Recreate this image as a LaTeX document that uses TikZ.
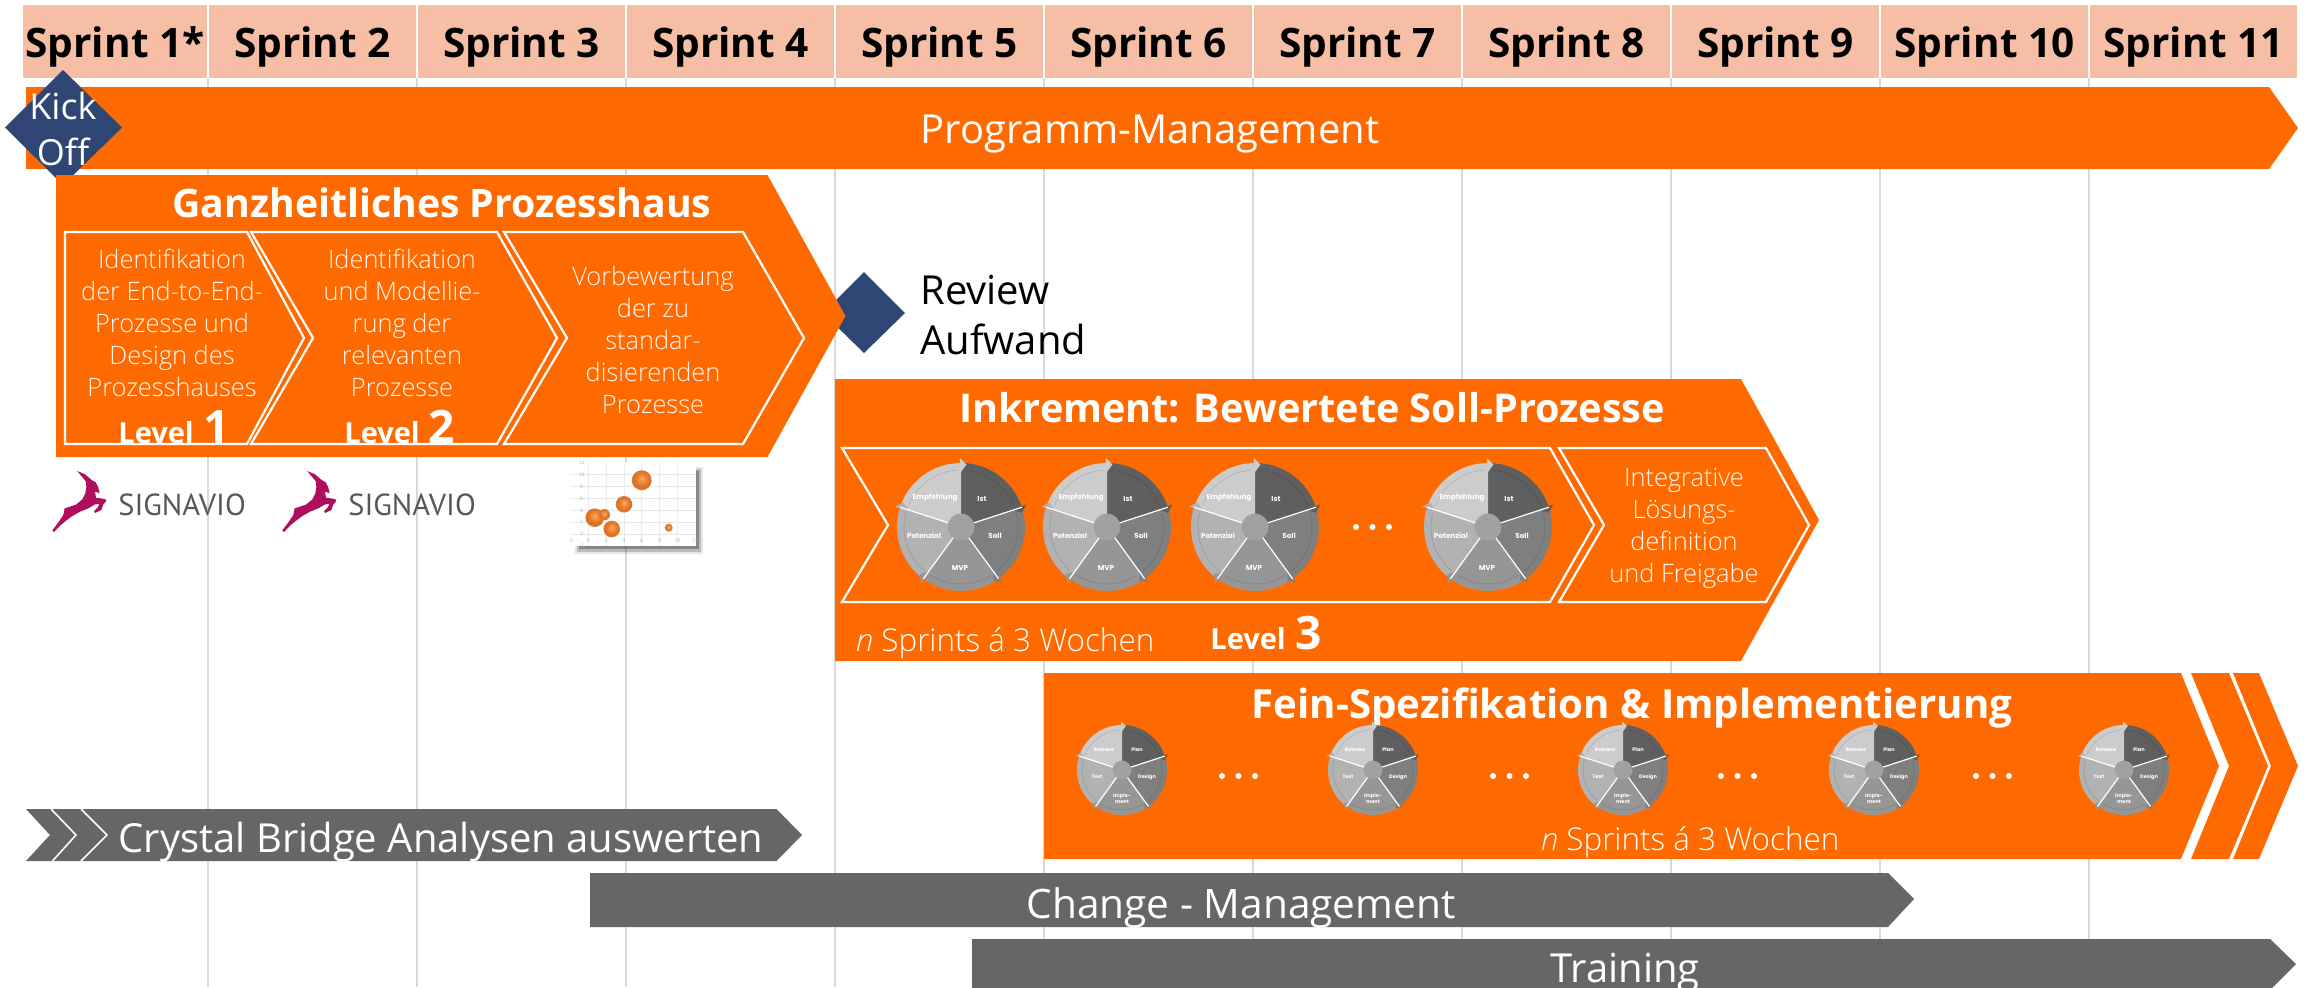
\documentclass[tikz,border=0pt]{standalone}
\usepackage{fontspec}
\setmainfont{Open Sans}
\newfontfamily\wheelfont{Poppins}
\newfontfamily\logofont{PT Sans}
\newfontfamily\lightfont{Open Sans Light}
\usetikzlibrary{shadings}
\definecolor{orng}{HTML}{FF6A00}
\definecolor{hdr}{HTML}{F6BEA5}
\definecolor{bargrey}{HTML}{666666}
\definecolor{diam}{HTML}{2F4574}
\definecolor{gridc}{HTML}{D9D9D9}
\definecolor{pale}{HTML}{FFF6F0}
\definecolor{logor}{HTML}{AE0E5C}
\definecolor{logog}{HTML}{58585A}
\definecolor{orbA}{HTML}{F8AE70}
\definecolor{orbB}{HTML}{F08A38}
\definecolor{orbC}{HTML}{D96E22}
\definecolor{orbD}{HTML}{E09058}
\pgfdeclareradialshading{orb}{\pgfpoint{0bp}{5bp}}{color(0bp)=(orbA); color(9bp)=(orbB); color(21bp)=(orbC); color(30bp)=(orbD); color(50bp)=(orbD)}
\tikzset{
  band/.style={fill=orng},
  greybar/.style={fill=bargrey},
  chev/.style={draw=white,line width=1.1pt,line join=miter},
  sprintcell/.style={fill=hdr},
  sprintlabel/.style={font=\fontsize{20.3}{20}\selectfont\bfseries,text=black,inner sep=0},
  titlelabel/.style={font=\fontsize{19.6}{20}\selectfont\bfseries,text=white,inner sep=0},
  barlabel/.style={font=\fontsize{20}{20}\selectfont,text=white,inner sep=0},
  chevlabel/.style={font=\lightfont\fontsize{12.7}{16}\selectfont,text=pale,align=center,inner sep=0},
  noteL/.style={font=\lightfont\fontsize{15.7}{14}\selectfont,text=white,inner sep=0},
  levelL/.style={font=\fontsize{14.5}{14}\selectfont\bfseries,text=white,inner sep=0,anchor=base west},
  digitL/.style={font=\fontsize{23}{22}\selectfont\bfseries,text=white,inner sep=0,anchor=base west},
  wheeltxt/.style={text=white,inner sep=0,align=center},
  dotmark/.style={fill=white,inner sep=0,minimum size=3pt,circle},
  ticklabel/.style={font=\fontsize{2.4}{3}\selectfont,text=black!35,inner sep=0},
}
\newcommand{\wheelbase}[4]{%
  \begin{scope}[shift={(#2,#3)}]
    \foreach \aa/\bb/\cc in {90/18/5F5F5F,18/-54/7F7F7F,-54/-126/969696,-126/-198/B2B2B2,-198/-270/CCCCCC}{
      \definecolor{secc}{HTML}{\cc}
      \fill[secc] (0,0) -- (\aa:#4pt) arc[start angle=\aa,end angle=\bb,radius=#4pt] -- cycle;
      \draw[secc!88!black,line width=0.35pt] (\aa-4:0.89*#4pt) arc[start angle=\aa-4,end angle=\bb+4,radius=0.89*#4pt];
    }
    \foreach \aa/\cc in {90/CCCCCC,18/5F5F5F,-54/7F7F7F,-126/969696,-198/B2B2B2}{
      \definecolor{secc}{HTML}{\cc}
      \fill[secc] (\aa+1:0.84*#4pt) -- (\aa+1:1.08*#4pt) -- (\aa-5:0.98*#4pt) -- cycle;
    }
    \foreach \aa in {18,-54,-126,-198}{
      \draw[white,line width=0.6pt] (0,0) -- (\aa:#4pt);
    }
    \fill[A0hub] (0,0) circle[radius=0.21*#4pt];
  \end{scope}%
}
\colorlet{A0hub}{black!37}
\newcommand{\bigwheel}[3]{%
  \wheelbase{#1}{#2}{#3}{32}
  \begin{scope}[shift={(#2,#3)},every node/.style={wheeltxt,font=\wheelfont\fontsize{3.6}{4}\selectfont\bfseries}]
    \node (#1a) at (21,-28) {Ist};
    \node (#1b) at (34,9) {Soll};
    \node (#1c) at (-1,41) {MVP};
    \node (#1d) at (-37,9) {Potenzial};
    \node (#1e) at (-26,-29) {Empfehlung};
  \end{scope}%
}
\newcommand{\smallwheel}[3]{%
  \wheelbase{#1}{#2}{#3}{22.5}
  \begin{scope}[shift={(#2,#3)},every node/.style={wheeltxt,font=\wheelfont\fontsize{2.5}{3}\selectfont\bfseries}]
    \node (#1a) at (15,-20) {Plan};
    \node (#1b) at (25,7) {Design};
    \node (#1c) at (0,29) {Imple-\\ment};
    \node (#1d) at (-25,7) {Test};
    \node (#1e) at (-18,-20) {Release};
  \end{scope}%
}
\newcommand{\threedots}[4]{%
  \node[dotmark] (#1a) at (#2,#4) {};
  \node[dotmark] (#1b) at (#2+16.5,#4) {};
  \node[dotmark] (#1c) at (#2+33,#4) {};
}
\newcommand{\signavio}[2]{%
  \begin{scope}[shift={(#2+40,465)},x=0.1667pt,y=-0.1667pt]
    \fill[logor] (112,18) -- (135,28) -- (155,45) -- (167,52) -- (174,65) -- (179,84) -- (165,80) -- (168,98) -- (195,102) -- (199,108) -- (190,118) -- (184,135) -- (165,144) -- (162,138) -- (174,126) -- (178,117) -- (165,118) -- (145,130) -- (120,140) -- (97,153) -- (77,168) -- (60,182) -- (42,201) -- (37,196) -- (53,175) -- (70,150) -- (74,130) -- (108,119) -- (127,103) -- (136,85) -- (139,65) -- (137,48) -- (123,32) -- cycle;
  \end{scope}
  \node[font=\logofont\fontsize{15.2}{16}\selectfont,text=logog,inner sep=0,anchor=west] (#1) at (#2+118,504.5) {SIGNAVIO};
}
\begin{document}
\begin{tikzpicture}[x=0.5pt,y=-0.5pt]
\useasboundingbox (0,0) rectangle (2315,987);
\fill[white] (0,0) rectangle (2315,987);
\clip (0,0) rectangle (2315,987);
% grid lines
\foreach \i in {0,...,9}{
  \draw[gridc,line width=0.8pt] (208+209*\i,78) -- (208+209*\i,987);
}
% header
\foreach \i/\t in {0/Sprint 1*,1/Sprint 2,2/Sprint 3,3/Sprint 4,4/Sprint 5,5/Sprint 6,6/Sprint 7,7/Sprint 8,8/Sprint 9,9/Sprint 10,10/Sprint 11}{
  \pgfmathsetmacro{\lft}{\i==0 ? 23 : 209+209*(\i-1)}
  \pgfmathsetmacro{\rgt}{207+209*\i}
  \fill[sprintcell] (\lft,5) rectangle (\rgt,78);
  \node[sprintlabel] (sprint\i) at ({(\lft+\rgt)/2},46.5) {\t};
}
% programme management
\fill[band] (26,87) -- (2269,87) -- (2298,128) -- (2269,169) -- (26,169) -- cycle;
\node[barlabel] (prog) at (1150,134.5) {Programm-Management};
% kick off
\fill[diam] (63,70) -- (122,127.5) -- (63,185) -- (5,127.5) -- cycle;
\node[font=\fontsize{18}{23}\selectfont,text=white,align=center,inner sep=0] (kick) at (63,129) {Kick\\Off};
% review diamond
\fill[diam] (864,272) -- (905,313) -- (864,353) -- (823,313) -- cycle;
\node[font=\fontsize{20}{25}\selectfont,text=black,align=left,inner sep=0,anchor=west] (review) at (920,315) {Review\\Aufwand};
% Prozesshaus
\fill[band] (56,175) -- (767.5,175) -- (845.5,316) -- (767.5,457) -- (56,457) -- cycle;
\node[titlelabel] (ph) at (442,203) {Ganzheitliches Prozesshaus};
\draw[chev] (65,232) -- (247,232) -- (304,338) -- (247,444) -- (65,444) -- cycle;
\draw[chev] (251,232) -- (497,232) -- (557,338) -- (497,444) -- (251,444) -- (313,338) -- cycle;
\draw[chev] (504,232) -- (743,232) -- (804,338) -- (743,444) -- (504,444) -- (567,338) -- cycle;
\node[chevlabel] (c1) at (172,323) {Identifikation\\der End-to-End-\\Prozesse und\\Design des\\Prozesshauses};
\node[chevlabel] (c2) at (402,323) {Identifikation\\und Modellie-\\rung der\\relevanten\\Prozesse};
\node[chevlabel] (c3) at (653,340) {Vorbewertung\\der zu\\standar-\\disierenden\\Prozesse};
\node[levelL] (l1) at (118,443) {Level};
\node[digitL] (d1) at (203,443) {1};
\node[levelL] (l2) at (344,443) {Level};
\node[digitL] (d2) at (428,443) {2};
% logos
\signavio{sig1}{0}
\signavio{sig2}{230}
% chart
\fill[black,opacity=0.10] (575,467) rectangle (703,554);
\fill[black,opacity=0.18] (577,469) rectangle (701,552);
\fill[black,opacity=0.28] (579,471) rectangle (699,549);
\fill[white] (570,463) rectangle (696,546);
\foreach \yy in {474.7,486.7,498.3,510.3,522,534}{\draw[black!9,line width=0.5pt] (570,\yy) -- (696,\yy);}
\foreach \xx in {588.3,606,624,641.7,659.7,677.3}{\draw[black!8,line width=0.4pt] (\xx,463) -- (\xx,546);}
\foreach \tt/\yy in {12/463,10/474.7,8/486.7,6/498.3,4/510.3,2/522,0/534,-2/546}{
  \node[ticklabel] at (581.5,\yy) {\tt};
}
\foreach \tt/\xx in {-2/571,0/588.3,2/606,4/624,6/641.7,8/659.7,10/677.3,12/695.3}{
  \node[ticklabel] at (\xx,541) {\tt};
}
\foreach \px/\py/\pr in {641.7/480.3/10,624/504.3/8.3,594.7/517.7/9.3,604.3/514.7/5.7,611.7/529/8.3,668.7/527.7/4}{
  \shade[shading=orb] (\px,\py) circle[radius=\pr*0.5pt];
}
% Inkrement
\fill[band] (835,379) -- (1741,379) -- (1819,520) -- (1741,661) -- (835,661) -- cycle;
\node[titlelabel,font=\fontsize{19.8}{20}\selectfont\bfseries] (ink) at (1312,408) {Inkrement: Bewertete Soll-Prozesse};
\draw[chev] (842,448) -- (1550,448) -- (1594,525) -- (1550,602) -- (842,602) -- (888,525) -- cycle;
\draw[chev] (1559,448) -- (1766,448) -- (1809,525) -- (1766,602) -- (1559,602) -- (1604,525) -- cycle;
\node[chevlabel] (c4) at (1684,528) {Integrative\\Lösungs-\\definition\\und Freigabe};
\bigwheel{wa}{961}{527}
\bigwheel{wb}{1107}{527}
\bigwheel{wc}{1255}{527}
\bigwheel{wd}{1488}{527}
\threedots{da}{1356}{0}{527}
\node[noteL] (nink) at (1005,643) {\textit{n} Sprints á 3 Wochen};
\node[levelL] (l3) at (1210,649) {Level};
\node[digitL] (d3) at (1295,649) {3};
% Fein-Spezifikation
\fill[band] (1044,673) -- (2181,673) -- (2219,766) -- (2181,859) -- (1044,859) -- cycle;
\fill[band] (2191,673) -- (2229,673) -- (2268,766) -- (2229,859) -- (2191,859) -- (2229,766) -- cycle;
\fill[band] (2233,673) -- (2259,673) -- (2298,766) -- (2259,859) -- (2233,859) -- (2271,766) -- cycle;
\node[titlelabel,font=\fontsize{20.1}{20}\selectfont\bfseries] (fein) at (1632,708) {Fein-Spezifikation \& Implementierung};
\smallwheel{xa}{1122}{770}
\smallwheel{xb}{1373}{770}
\smallwheel{xc}{1623}{770}
\smallwheel{xd}{1874}{770}
\smallwheel{xe}{2124}{770}
\threedots{db}{1222}{0}{776}
\threedots{dc}{1493}{0}{776}
\threedots{dd}{1721}{0}{776}
\threedots{de}{1976}{0}{776}
\node[noteL] (nfein) at (1690,842) {\textit{n} Sprints á 3 Wochen};
% Crystal Bridge
\fill[greybar] (26,809) -- (776.5,809) -- (802,835) -- (776.5,861) -- (26,861) -- (50,835) -- cycle;
\draw[white,line width=0.8pt] (51,809) -- (76,835) -- (52.5,861);
\draw[white,line width=0.8pt] (81,809) -- (107,835) -- (81,861);
\node[barlabel] (crystal) at (441,842) {Crystal Bridge Analysen auswerten};
% Change
\fill[greybar] (590,873) -- (1888,873) -- (1914,899) -- (1888,927) -- (590,927) -- cycle;
\node[barlabel,font=\fontsize{20.3}{20}\selectfont] (change) at (1241,908) {Change - Management};
% Training
\fill[greybar] (972,939) -- (2270,939) -- (2296,964) -- (2270,990) -- (972,990) -- cycle;
\node[barlabel] (train) at (1625,973) {Training};
\end{tikzpicture}
\end{document}
